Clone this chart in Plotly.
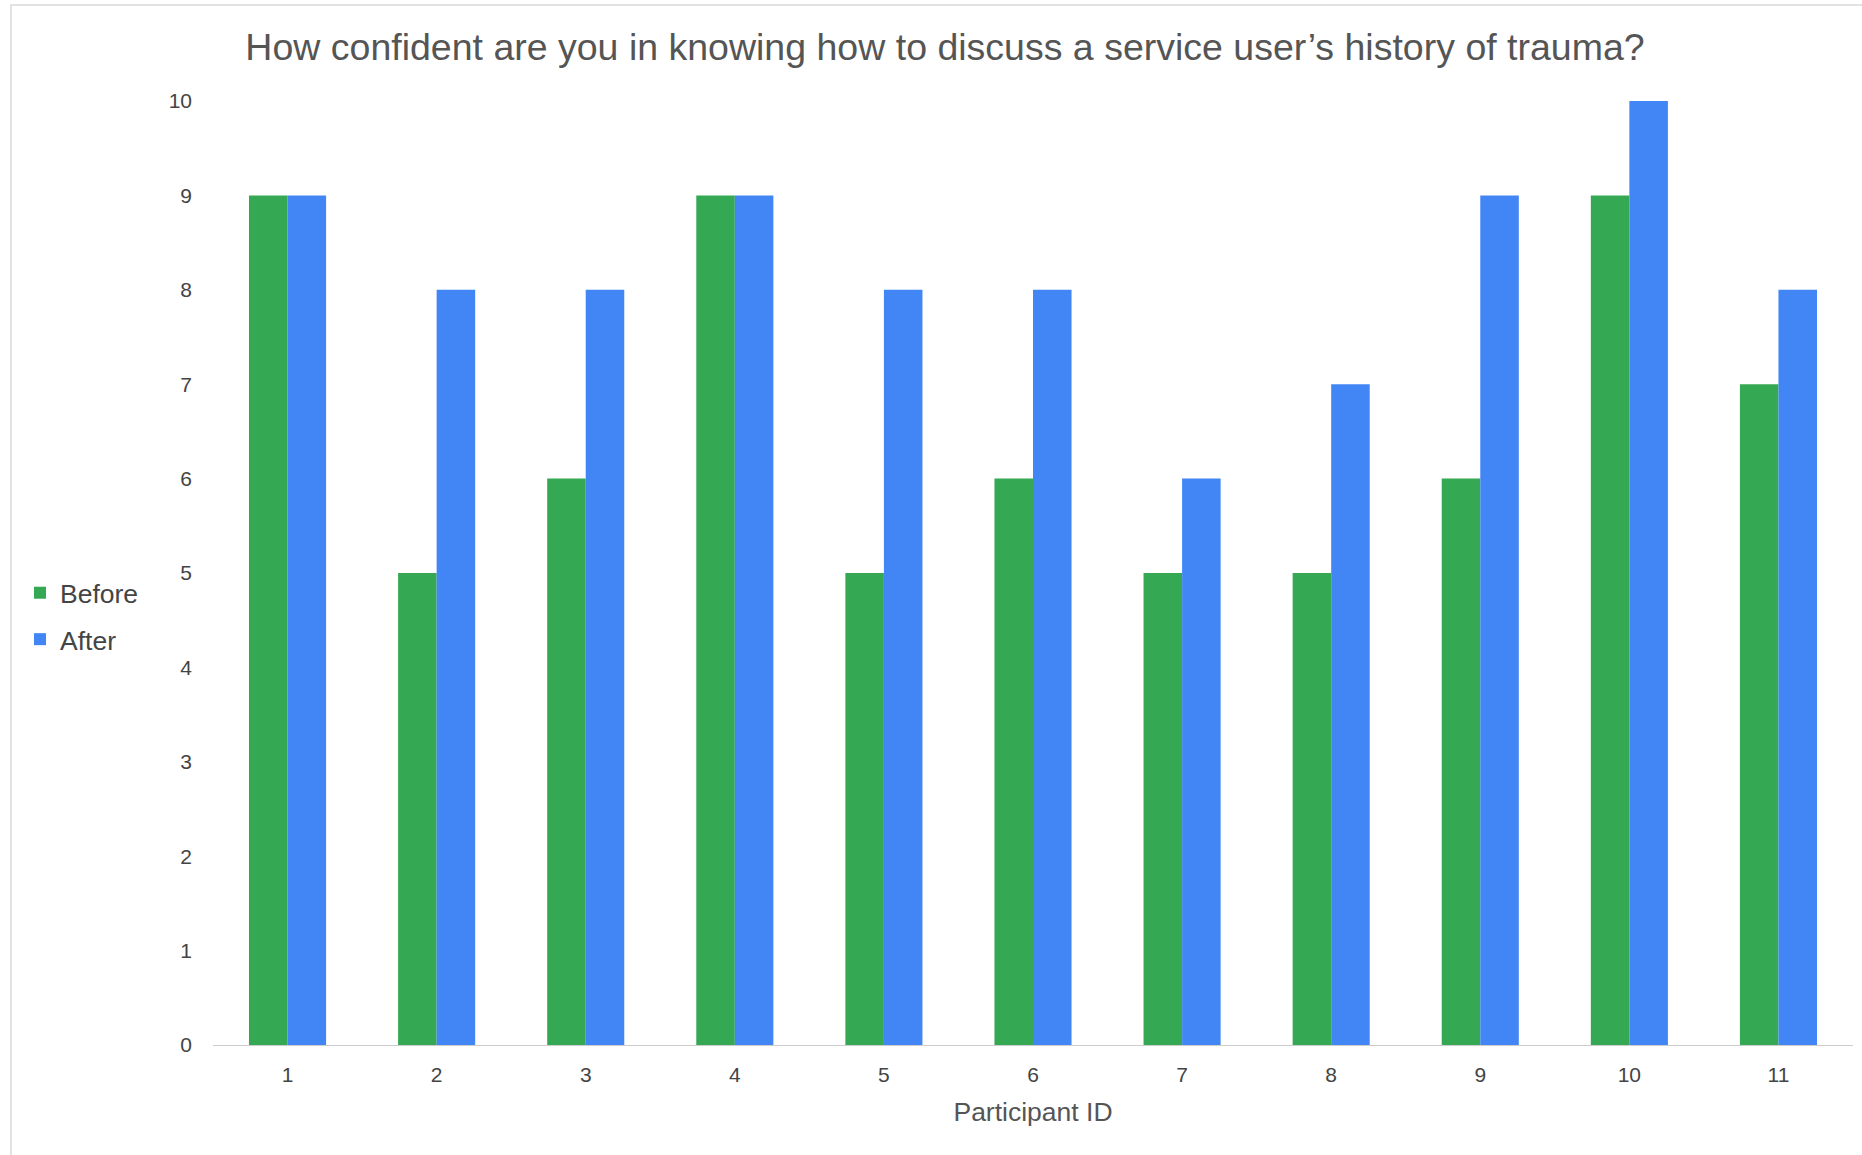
import plotly.graph_objects as go

# Confidence scores per participant, before and after the session
participants = ["1", "2", "3", "4", "5", "6", "7", "8", "9", "10", "11"]
before = [9, 5, 6, 9, 5, 6, 5, 5, 6, 9, 7]
after = [9, 8, 8, 9, 8, 8, 6, 7, 9, 10, 8]
y_ticks = [0, 1, 2, 3, 4, 5, 6, 7, 8, 9, 10]

W, H = 1862, 1155
L, R, T, B = 213, 9, 101, 110
PW, PH = W - L - R, H - T - B


def px_to_paper_x(px):
    return (px - L) / PW


def px_to_paper_y(py):
    return (H - B - py) / PH


fig = go.Figure()
fig.add_trace(go.Bar(name="Before", x=participants, y=before, legendgroup="before",
                     marker=dict(color="#34A853", line=dict(width=0))))
fig.add_trace(go.Bar(name="After", x=participants, y=after, legendgroup="after",
                     marker=dict(color="#4285F4", line=dict(width=0))))

font_family = "Liberation Sans, Arial, sans-serif"

fig.update_layout(
    width=W, height=H,
    margin=dict(l=L, r=R, t=T, b=B, pad=0),
    paper_bgcolor="white", plot_bgcolor="white",
    barmode="group", bargap=0.483, bargroupgap=0,
    font=dict(family=font_family, color="#444444"),
    title=dict(
        text="How confident are you in knowing how to discuss a service user\u2019s history of trauma?",
        font=dict(size=37.5, color="#555555", family=font_family),
        xref="container", x=945 / W, xanchor="center",
        yref="container", y=1 - 47 / H, yanchor="middle",
    ),
    legend=dict(
        x=px_to_paper_x(20), xanchor="left",
        y=px_to_paper_y(616), yanchor="middle",
        font=dict(size=26.5, color="#444444", family=font_family),
        itemwidth=30, traceorder="grouped", tracegroupgap=9,
        bgcolor="rgba(0,0,0,0)",
    ),
    xaxis=dict(
        type="category",
        showgrid=False, showline=False, ticks="",
        tickfont=dict(size=21, color="#444444"),
        ticklabelstandoff=15,
        title=dict(text="Participant ID", standoff=17,
                   font=dict(size=26.5, color="#555555")),
    ),
    yaxis=dict(
        range=[0, 10], tickvals=y_ticks, ticktext=[str(v) for v in y_ticks],
        showgrid=False, showline=False, ticks="",
        zeroline=True, zerolinecolor="#cccccc", zerolinewidth=1,
        tickfont=dict(size=21, color="#444444"),
        ticklabelstandoff=20,
    ),
    shapes=[
        # thin frame along the top and left edges
        dict(type="line", xref="paper", yref="paper",
             x0=px_to_paper_x(10), x1=px_to_paper_x(W),
             y0=px_to_paper_y(5), y1=px_to_paper_y(5),
             line=dict(color="#e2e2e2", width=2)),
        dict(type="line", xref="paper", yref="paper",
             x0=px_to_paper_x(11), x1=px_to_paper_x(11),
             y0=px_to_paper_y(5), y1=px_to_paper_y(H),
             line=dict(color="#e2e2e2", width=2)),
    ],
)

fig.write_html("out.html")
